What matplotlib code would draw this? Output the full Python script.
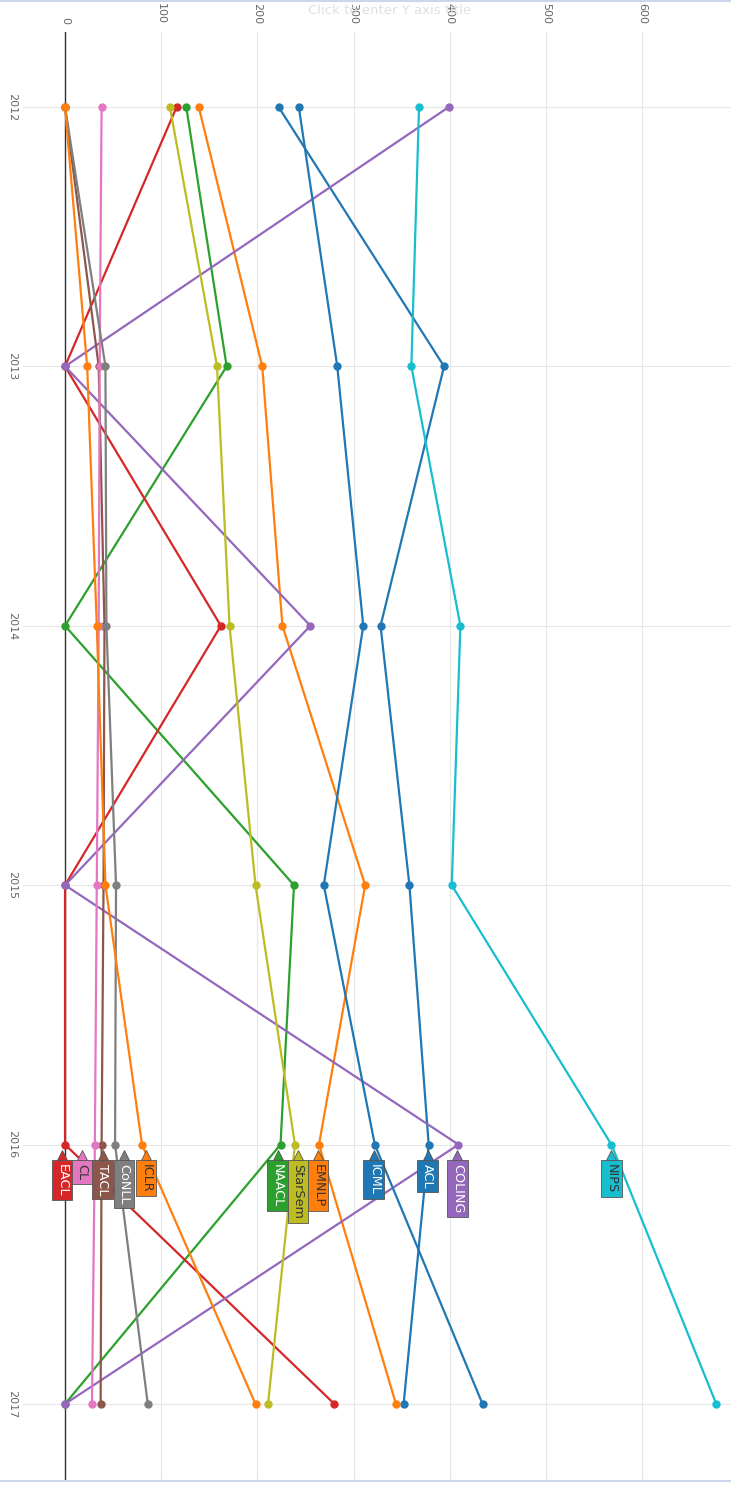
import matplotlib.pyplot as plt
from matplotlib.transforms import offset_copy

# conference paper counts per year
years = [2012, 2013, 2014, 2015, 2016, 2017]
acl = [222, 394, 328, 358, 378, 352]
emnlp = [139, 205, 226, 312, 264, 344]
naacl = [126, 168, 0, 238, 224, 0]
eacl = [116, 0, 162, 0, 0, 280]
coling = [399, 0, 255, 0, 409, 0]
tacl = [0, 35, 41, 40, 38, 37]
cl = [38, 36, 35, 33, 31, 28]
conll = [0, 42, 43, 53, 52, 86]
starsem = [109, 158, 171, 198, 239, 211]
nips = [368, 360, 411, 402, 568, 677]
icml = [243, 283, 310, 269, 322, 434]
iclr = [0, 23, 33, 42, 80, 198]

series = [
    ('ACL', acl, '#1f77b4', 'white'),
    ('EMNLP', emnlp, '#ff7f0e', '#333333'),
    ('NAACL', naacl, '#2ca02c', 'white'),
    ('EACL', eacl, '#d62728', 'white'),
    ('COLING', coling, '#9467bd', 'white'),
    ('TACL', tacl, '#8c564b', 'white'),
    ('CL', cl, '#e377c2', '#333333'),
    ('CoNLL', conll, '#7f7f7f', 'white'),
    ('StarSem', starsem, '#bcbd22', '#333333'),
    ('NIPS', nips, '#17becf', '#333333'),
    ('ICML', icml, '#1f77b4', 'white'),
    ('ICLR', iclr, '#ff7f0e', '#333333'),
]

# horizontal nudge of the end labels (pixels) so they don't overlap
label_shift = {'EACL': -3, 'CL': -13, 'TACL': 1, 'CoNLL': 9, 'ICLR': 4,
               'NAACL': -3, 'StarSem': 3, 'EMNLP': -1, 'ICML': -1,
               'ACL': -1, 'COLING': -1, 'NIPS': 0}

fig = plt.figure(figsize=(7.31, 14.86), dpi=100)
ax = fig.add_axes([23 / 731, 5 / 1486, 1 - 23 / 731, (1481 - 32) / 1486])

for name, vals, col, tcol in series:
    ax.plot(vals, years, color=col, lw=1.6, marker='o', ms=5, zorder=3)

ax.set_xlim(-43.7, 692.3)
ax.set_ylim(2017.297, 2011.711)

ax.set_xticks([0, 100, 200, 300, 400, 500, 600])
ax.set_yticks(years)
ax.xaxis.tick_top()
ax.tick_params(axis='x', length=0, pad=6, labelsize=8, labelcolor='#666666',
               labelrotation=-90)
ax.tick_params(axis='y', length=0, pad=4, labelsize=8, labelcolor='#666666',
               labelrotation=-90)
for lab in ax.get_yticklabels():
    lab.set_va('center')
ax.grid(True, color='#e6e6e6', lw=0.8)
ax.set_axisbelow(True)
ax.axvline(0, color='#333333', lw=1.0, zorder=2)

for s in ['left', 'right', 'top', 'bottom']:
    ax.spines[s].set_visible(False)

# end labels (tags) at the 2016 point
for name, vals, col, tcol in series:
    dx = label_shift[name] * 0.72
    tri = offset_copy(ax.transData, fig=fig, x=dx, y=-7.5, units='points')
    ax.plot(vals[4], 2016, marker='^', ms=6.5, color=col, mec='#555555', mew=0.6,
            transform=tri, zorder=5, clip_on=False)
    ax.annotate(name, xy=(vals[4], 2016), xytext=(dx, -14),
                textcoords='offset points', rotation=-90, ha='center', va='top',
                fontsize=9.2, color=tcol, zorder=6,
                bbox=dict(boxstyle='square,pad=0.3', fc=col, ec='#555555', lw=0.6))

fig.add_artist(plt.Line2D([0, 1], [0.9995, 0.9995], color='#ccd6eb', lw=1.5))
fig.add_artist(plt.Line2D([0, 1], [5 / 1486, 5 / 1486], color='#ccd6eb', lw=1.5))
fig.text(390 / 731, 1 - 11 / 1486, 'Click to enter Y axis title', ha='center', va='center',
         fontsize=9.5, color='#e0e0e0')

fig.savefig('out.png', dpi=100)
